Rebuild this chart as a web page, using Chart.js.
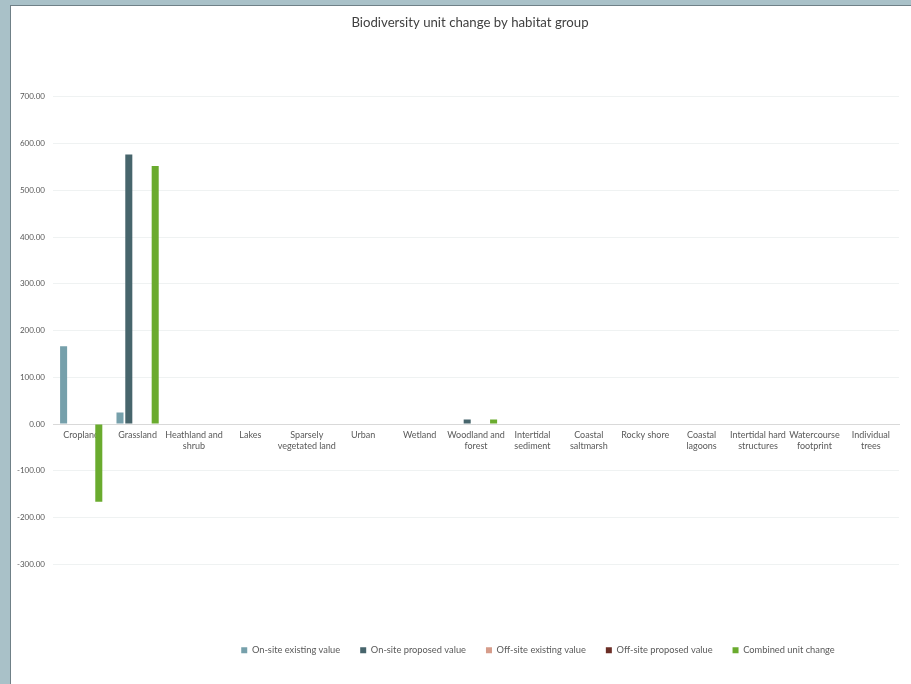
<!DOCTYPE html>
<html>
<head>
<meta charset="utf-8">
<script src="https://cdn.jsdelivr.net/npm/chart.js@4/dist/chart.umd.min.js"></script>
<style>
  html, body { margin: 0; padding: 0; background: #a9c1c8; overflow: hidden; }
  #panel {
    position: absolute; left: 10px; top: 5px; width: 901px; height: 679px;
    background: #fff; border-left: 1px solid #6f8087; border-top: 1px solid #6f8087;
  }
  canvas { display: block; }
</style>
</head>
<body>
<div id="panel"><canvas id="c" width="900" height="678"></canvas></div>
<script>
const habitats = [
  'Cropland', 'Grassland', ['Heathland and', 'shrub'], 'Lakes', ['Sparsely', 'vegetated land'],
  'Urban', 'Wetland', ['Woodland and', 'forest'], ['Intertidal', 'sediment'], ['Coastal', 'saltmarsh'],
  'Rocky shore', ['Coastal', 'lagoons'], ['Intertidal hard', 'structures'], ['Watercourse', 'footprint'],
  ['Individual', 'trees']
];
const onsiteExisting  = [166.4, 24.5, 0, 0, 0, 1.2, 0, 0, 0, 0, 0, 0, 0, 0, 0];
const onsiteProposed  = [0, 576.5, 0, 0, 0, 0, 0, 9.5, 0, 0, 0, 0, 0, 0, 0];
const offsiteExisting = [0, 0, 0, 0, 0, 0, 0, 0, 0, 0, 0, 0, 0, 0, 0];
const offsiteProposed = [0, 0, 0, 0, 0, 0, 0, 0, 0, 0, 0, 0, 0, 0, 0];
const combinedChange  = [-166.4, 552, 0, 0, 0, 0, 0, 9.5, 0, 0, 0, 0, 0, 0, 0];

const font = 'Lato, "Noto Sans", sans-serif';

const mk = (label, data, colour) => ({
  label, data, backgroundColor: colour, borderWidth: 0,
  barPercentage: 0.8, categoryPercentage: 0.78
});

// the original chart is wider than the visible frame, so its title and
// legend sit right of the canvas centre
const offCentre = {
  id: 'offCentre',
  afterLayout(chart) {
    const t = chart.titleBlock, l = chart.legend;
    if (t) { t.left += 14; t.right += 14; }
    if (l) { l.left += 82; l.right += 82; }
  }
};

new Chart(document.getElementById('c'), {
  type: 'bar',
  data: {
    labels: habitats,
    datasets: [
      mk('On-site existing value', onsiteExisting, '#76a0ab'),
      mk('On-site proposed value', onsiteProposed, '#47656c'),
      mk('Off-site existing value', offsiteExisting, '#d69c8a'),
      mk('Off-site proposed value', offsiteProposed, '#6b2e26'),
      mk('Combined unit change', combinedChange, '#6aab2e')
    ]
  },
  plugins: [offCentre],
  options: {
    responsive: false,
    animation: false,
    layout: { padding: { left: 2, right: 12, top: 0, bottom: 19 } },
    plugins: {
      tooltip: { enabled: false },
      title: {
        display: true,
        text: 'Biodiversity unit change by habitat group',
        color: '#404040',
        font: { family: font, size: 13.2, weight: 'normal' },
        padding: { top: 9, bottom: 66 }
      },
      legend: {
        position: 'bottom',
        // empty legend title only keeps the gap between plot and legend
        title: { display: true, text: ' ', font: { size: 2 }, padding: { top: 0, bottom: 59 } },
        labels: {
          color: '#595959',
          font: { family: font, size: 9.3 },
          boxWidth: 6, boxHeight: 6, padding: 20
        }
      }
    },
    scales: {
      x: {
        position: { y: 0 },
        grid: { display: false, drawTicks: false },
        border: { display: true, color: '#d9d9d9' },
        ticks: { color: '#595959', font: { family: font, size: 9 }, padding: 6, maxRotation: 0, autoSkip: false }
      },
      y: {
        min: -300, max: 700,
        grid: { color: '#eff2f2', drawTicks: false },
        border: { display: false },
        afterFit: s => { s.width = 40; },
        ticks: {
          stepSize: 100, padding: 8, color: '#595959',
          font: { family: font, size: 8 },
          callback: v => v.toFixed(2)
        }
      }
    }
  }
});
</script>
</body>
</html>
